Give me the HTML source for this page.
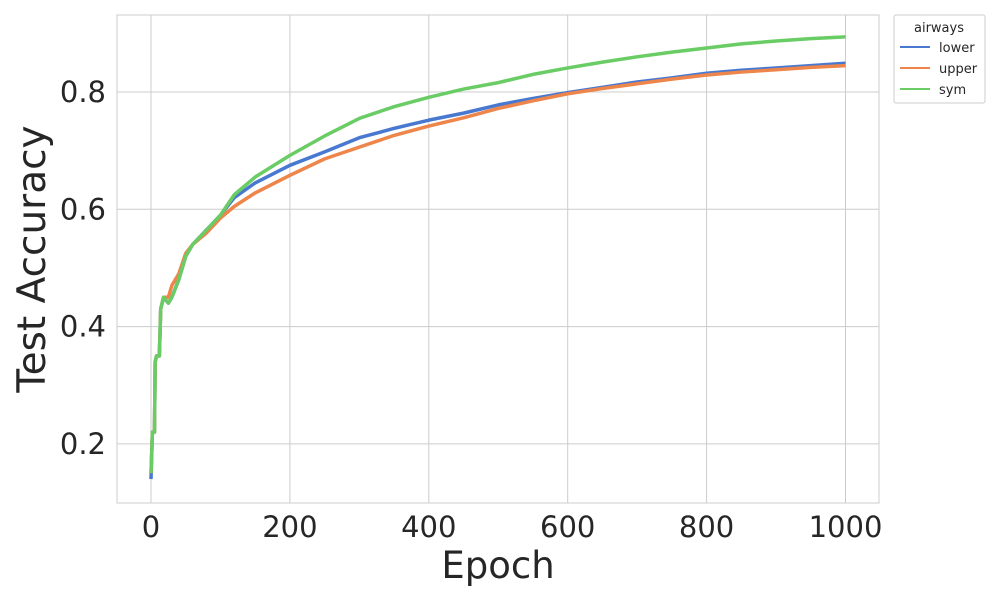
<!DOCTYPE html>
<html><head><meta charset="utf-8"><style>
body{margin:0;background:#fff;}
svg text{font-family:"DejaVu Sans","Liberation Sans",sans-serif;fill:#262626;}
</style></head><body>
<svg id="chart" width="1000" height="600">
<rect x="117" y="15" width="762" height="488" fill="#fff" stroke="#ccc" stroke-width="1"/>
<g id="grid"></g><g id="ticks"></g><g id="lines"></g>
<text x="498" y="578" font-size="37" text-anchor="middle">Epoch</text>
<text transform="translate(45,259) rotate(-90)" font-size="39" text-anchor="middle">Test Accuracy</text>
<g>
<rect x="894" y="15" width="91" height="88" fill="#fff" stroke="#ccc" rx="2"/>
<text x="939" y="32" font-size="13" text-anchor="middle">airways</text>
<line x1="900" y1="47" x2="930" y2="47" stroke="#4878d0" stroke-width="2"/><text x="939" y="52" font-size="13">lower</text>
<line x1="900" y1="68" x2="930" y2="68" stroke="#ee854a" stroke-width="2"/><text x="939" y="73" font-size="13">upper</text>
<line x1="900" y1="89" x2="930" y2="89" stroke="#6acc64" stroke-width="2"/><text x="939" y="94" font-size="13">sym</text>
</g>
</svg>
<script>
const xTicks=[0,200,400,600,800,1000];
const yTicks=[0.2,0.4,0.6,0.8];
const epochs=[0,2,5,6,8,12,14,18,25,30,40,50,60,80,100,120,150,200,250,300,350,400,450,500,550,600,650,700,750,800,850,900,950,1000];
const lowerVals=[0.14,0.22,0.22,0.34,0.35,0.35,0.43,0.45,0.44,0.45,0.48,0.52,0.54,0.565,0.59,0.62,0.645,0.675,0.698,0.722,0.738,0.752,0.764,0.778,0.789,0.799,0.808,0.817,0.824,0.832,0.837,0.841,0.845,0.849];
const upperVals=[0.15,0.22,0.22,0.34,0.35,0.35,0.43,0.45,0.45,0.47,0.49,0.525,0.54,0.56,0.585,0.605,0.628,0.658,0.686,0.706,0.726,0.742,0.756,0.772,0.785,0.797,0.806,0.814,0.822,0.829,0.834,0.838,0.842,0.845];
const symVals=[0.15,0.22,0.22,0.34,0.35,0.35,0.43,0.45,0.44,0.45,0.48,0.52,0.54,0.565,0.59,0.625,0.655,0.692,0.725,0.755,0.775,0.791,0.805,0.816,0.83,0.841,0.851,0.86,0.868,0.875,0.882,0.887,0.891,0.894];
const X=e=>151+e*0.6945, Y=v=>92+(0.8-v)*586.5;
const ns="http://www.w3.org/2000/svg";
const grid=document.getElementById('grid'),ticks=document.getElementById('ticks'),lines=document.getElementById('lines');
xTicks.forEach(t=>{
 const l=document.createElementNS(ns,'line');
 
 
 l.setAttribute('x1',X(t));l.setAttribute('x2',X(t));l.setAttribute('y1',15);l.setAttribute('y2',503);l.setAttribute('stroke','#ccc');grid.appendChild(l);
 const tx=document.createElementNS(ns,'text');
 
 
 tx.setAttribute('x',X(t));tx.setAttribute('y',537);tx.setAttribute('font-size','29');tx.setAttribute('text-anchor','middle');tx.textContent=t;ticks.appendChild(tx);
});
yTicks.forEach(t=>{
 const l=document.createElementNS(ns,'line');
 
 
 l.setAttribute('x1',117);l.setAttribute('x2',879);l.setAttribute('y1',Y(t));l.setAttribute('y2',Y(t));l.setAttribute('stroke','#ccc');grid.appendChild(l);
 const tx=document.createElementNS(ns,'text');
 
 
 tx.setAttribute('x',106);tx.setAttribute('y',Y(t)+10);tx.setAttribute('font-size','29');tx.setAttribute('text-anchor','end');tx.textContent=t.toFixed(1);ticks.appendChild(tx);
});
[['lower',lowerVals,'#4878d0'],['upper',upperVals,'#ee854a'],['sym',symVals,'#6acc64']].forEach(([n,vals,c])=>{
 const p=document.createElementNS(ns,'polyline');
 
 
 p.setAttribute('points',vals.map((v,i)=>X(epochs[i])+','+Y(v)).join(' '));
 p.setAttribute('fill','none');p.setAttribute('stroke',c);p.setAttribute('stroke-width','3.5');p.setAttribute('stroke-linejoin','round');
 lines.appendChild(p);
});
</script>
</body></html>
